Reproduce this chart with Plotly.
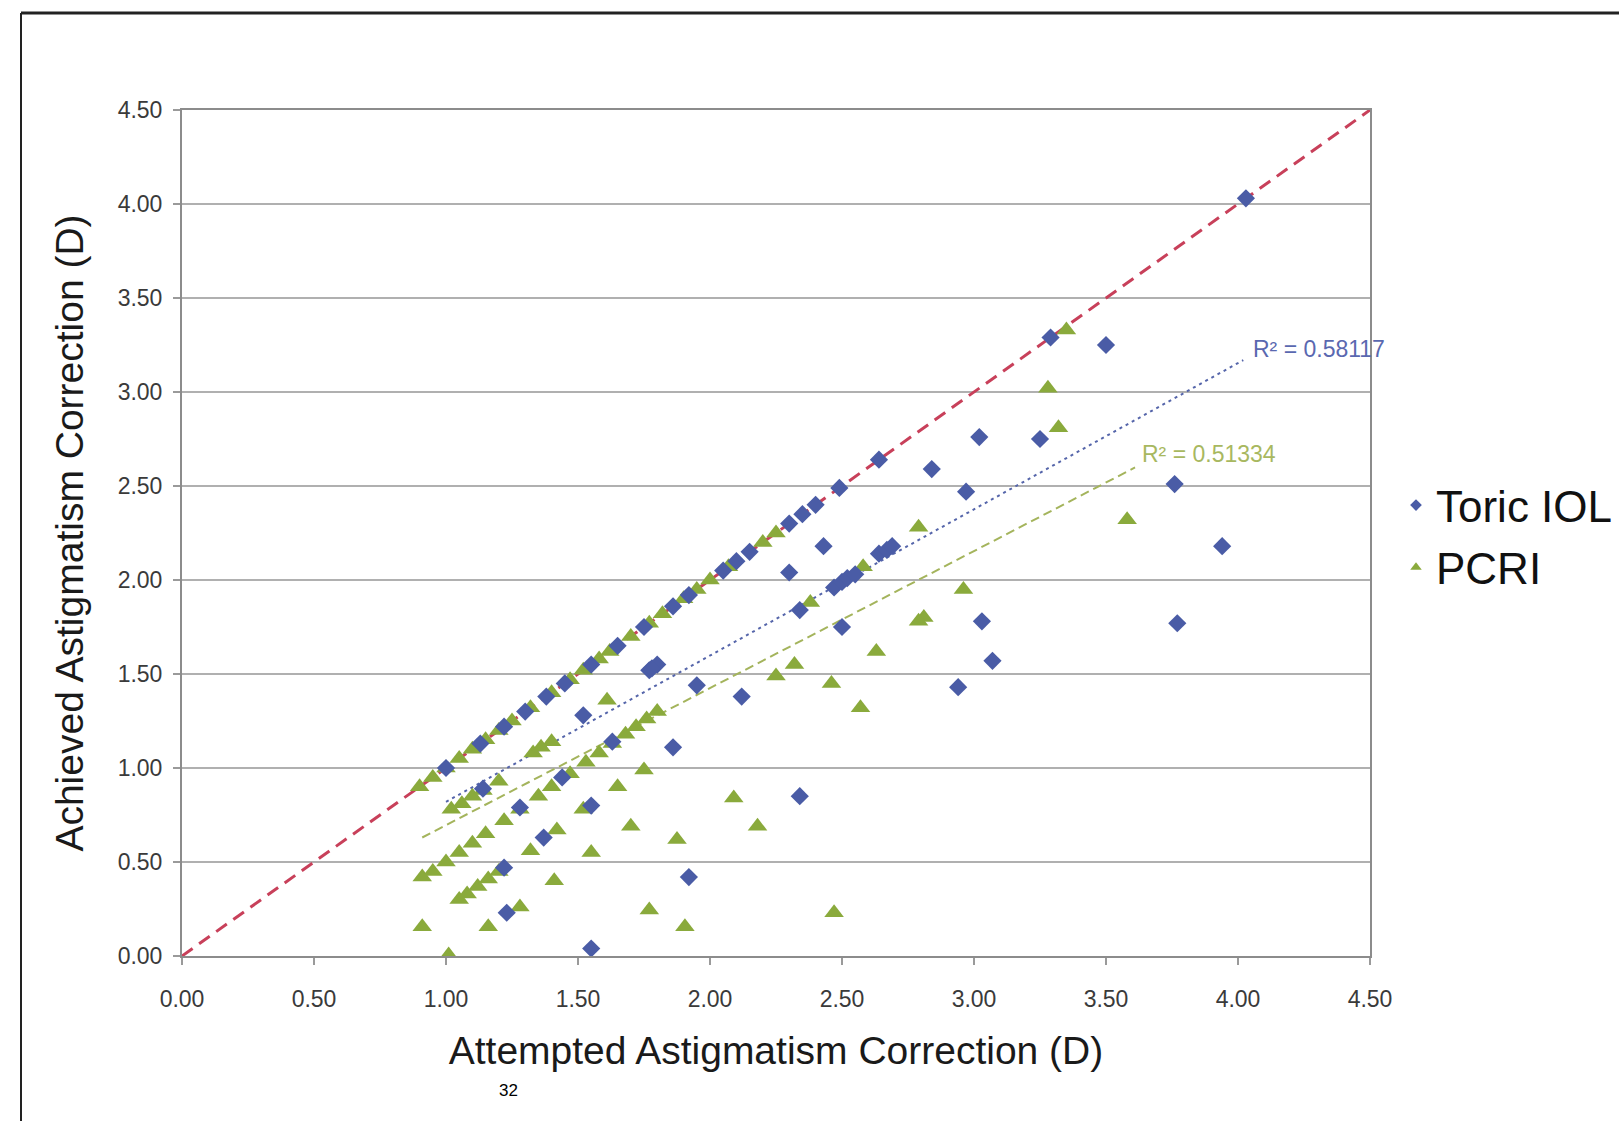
import numpy as np
import plotly.graph_objects as go

# ---------------- data ----------------
toric_x = [1.00, 1.13, 1.22, 1.30, 1.38, 1.45, 1.55, 1.65, 1.75, 1.86, 1.92, 2.05, 2.10, 2.15,
           2.30, 2.35, 2.40, 2.49, 2.64, 3.29, 4.03,
           1.14, 1.28, 1.44, 1.52, 1.63, 1.55, 1.37, 1.22, 1.23, 1.55, 1.86, 1.92, 1.95, 1.77,
           1.80, 1.78, 2.12, 2.34, 2.30, 2.43, 2.47, 2.50, 2.52, 2.55, 2.64, 2.67, 2.69, 2.34,
           2.50, 2.84, 2.97, 3.02, 3.25, 3.50, 3.76, 3.94, 3.77, 3.03, 3.07, 2.94]
toric_y = [1.00, 1.13, 1.22, 1.30, 1.38, 1.45, 1.55, 1.65, 1.75, 1.86, 1.92, 2.05, 2.10, 2.15,
           2.30, 2.35, 2.40, 2.49, 2.64, 3.29, 4.03,
           0.89, 0.79, 0.95, 1.28, 1.14, 0.80, 0.63, 0.47, 0.23, 0.04, 1.11, 0.42, 1.44, 1.52,
           1.55, 1.53, 1.38, 0.85, 2.04, 2.18, 1.96, 1.99, 2.01, 2.03, 2.14, 2.16, 2.18, 1.84,
           1.75, 2.59, 2.47, 2.76, 2.75, 3.25, 2.51, 2.18, 1.77, 1.78, 1.57, 1.43]

pcri_x = [0.90, 0.95, 1.00, 1.05, 1.10, 1.15, 1.20, 1.25, 1.32, 1.40, 1.47, 1.52, 1.58, 1.62,
          1.70, 1.77, 1.82, 1.90, 1.95, 2.00, 2.07, 2.20, 2.25, 3.35,
          1.02, 1.06, 1.10, 1.14, 1.20, 1.33, 1.36, 1.40, 1.61,
          0.91, 0.95, 1.00, 1.05, 1.10, 1.15, 1.22, 1.28, 1.35, 1.40, 1.47, 1.53, 1.58, 1.63,
          1.68, 1.72, 1.76, 1.80,
          1.05, 1.08, 1.12, 1.16, 1.20, 1.32, 1.42, 1.52,
          0.91, 1.01, 1.16, 1.28, 1.41, 1.55, 1.65, 1.70, 1.75, 1.875, 1.77, 1.905, 2.09, 2.18,
          2.47, 2.25, 2.32, 2.46, 2.57, 2.63, 2.38, 2.58, 2.79, 2.81, 2.79, 2.96, 3.28, 3.32, 3.58]
pcri_y = [0.90, 0.95, 1.00, 1.05, 1.10, 1.15, 1.20, 1.25, 1.32, 1.40, 1.47, 1.52, 1.58, 1.62,
          1.70, 1.77, 1.82, 1.90, 1.95, 2.00, 2.07, 2.20, 2.25, 3.33,
          0.78, 0.81, 0.85, 0.88, 0.93, 1.08, 1.11, 1.14, 1.36,
          0.42, 0.45, 0.50, 0.55, 0.60, 0.65, 0.72, 0.78, 0.85, 0.90, 0.97, 1.03, 1.08, 1.13,
          1.18, 1.22, 1.26, 1.30,
          0.30, 0.33, 0.37, 0.41, 0.45, 0.56, 0.67, 0.78,
          0.155, 0.005, 0.155, 0.26, 0.40, 0.55, 0.90, 0.69, 0.99, 0.62, 0.245, 0.155, 0.84, 0.69,
          0.23, 1.49, 1.55, 1.45, 1.32, 1.62, 1.88, 2.07, 2.28, 1.80, 1.78, 1.95, 3.02, 2.81, 2.32]

# linear trend lines (coefficients)
toric_fit_slope, toric_fit_intercept = 0.778, 0.042
toric_fit_range = [1.00, 4.02]
toric_r2_text = "R² = 0.58117"
pcri_fit_slope, pcri_fit_intercept = 0.729, -0.033
pcri_fit_range = [0.91, 3.61]
pcri_r2_text = "R² = 0.51334"

identity_range = [0.0, 4.5]

tick_vals = [0.0, 0.5, 1.0, 1.5, 2.0, 2.5, 3.0, 3.5, 4.0, 4.5]
tick_text = ["0.00", "0.50", "1.00", "1.50", "2.00", "2.50", "3.00", "3.50", "4.00", "4.50"]

series_names = ["Toric IOL", "PCRI"]
x_title = "Attempted Astigmatism Correction (D)"
y_title = "Achieved Astigmatism Correction (D)"
page_number = "32"

# ---------------- figure ----------------
FONT = "Liberation Sans, Arial, sans-serif"
BLUE = "#4a5ca6"
GREEN = "#8aaa3c"

W, H = 1619, 1121
L, R, T, B = 182, 249, 110, 165
PW, PH = W - L - R, H - T - B


def px_x(p):
    return (p - L) / PW


def px_y(p):
    return (H - B - p) / PH


fig = go.Figure()

# identity line
fig.add_trace(go.Scatter(x=identity_range, y=identity_range, mode="lines",
                         line=dict(color="#c8405a", width=3, dash="13px,8px"),
                         showlegend=False, hoverinfo="skip"))

# trend lines
tx = np.array(toric_fit_range)
fig.add_trace(go.Scatter(x=tx, y=toric_fit_slope * tx + toric_fit_intercept, mode="lines",
                         line=dict(color="#5565aa", width=2, dash="3px,4px"),
                         showlegend=False, hoverinfo="skip"))
gx = np.array(pcri_fit_range)
fig.add_trace(go.Scatter(x=gx, y=pcri_fit_slope * gx + pcri_fit_intercept, mode="lines",
                         line=dict(color="#a4b45c", width=2, dash="9px,5px"),
                         showlegend=False, hoverinfo="skip"))

# scatter series
fig.add_trace(go.Scatter(x=pcri_x, y=pcri_y, mode="markers", name=series_names[1],
                         marker=dict(symbol="triangle-up", size=17, color=GREEN),
                         showlegend=False))
fig.add_trace(go.Scatter(x=toric_x, y=toric_y, mode="markers", name=series_names[0],
                         marker=dict(symbol="diamond", size=14, color=BLUE),
                         showlegend=False))

# legend entries
fig.add_trace(go.Scatter(x=[None], y=[None], mode="markers", name=series_names[0],
                         legendgroup="a",
                         marker=dict(symbol="diamond", size=9, color=BLUE)))
fig.add_trace(go.Scatter(x=[None], y=[None], mode="markers", name=series_names[1],
                         legendgroup="b",
                         marker=dict(symbol="triangle-up", size=10, color=GREEN)))

axis_common = dict(range=[0, 4.5], tickvals=tick_vals, ticktext=tick_text,
                   tickfont=dict(family=FONT, size=23, color="#3a3a3a"),
                   showline=True, linecolor="#8c8c8c", linewidth=2, mirror=True,
                   ticks="outside", ticklen=7, tickcolor="#9a9a9a", tickwidth=2,
                   zeroline=False, fixedrange=True)

fig.update_xaxes(**axis_common, showgrid=False,
                 title=dict(text=x_title, font=dict(family=FONT, size=39, color="#1a1a1a"),
                            standoff=26),
                 ticklabelstandoff=14)
fig.update_yaxes(**axis_common, showgrid=True, gridcolor="#b0b0b0", gridwidth=2,
                 title=dict(text=y_title, font=dict(family=FONT, size=39, color="#1a1a1a"),
                            standoff=22),
                 ticklabelstandoff=6)

annotations = [
    dict(x=4.05, y=3.23, xref="x", yref="y", text=toric_r2_text, showarrow=False,
         xanchor="left", yanchor="middle",
         font=dict(family=FONT, size=23, color="#5a68b0")),
    dict(x=3.63, y=2.67, xref="x", yref="y", text=pcri_r2_text, showarrow=False,
         xanchor="left", yanchor="middle",
         font=dict(family=FONT, size=23, color="#a8b860")),
    dict(x=px_x(508), y=px_y(1090), xref="paper", yref="paper", text=page_number,
         showarrow=False, xanchor="center", yanchor="middle",
         font=dict(family=FONT, size=17, color="#000000")),
]

shapes = [
    # page frame: top and left rules
    dict(type="line", xref="paper", yref="paper", x0=px_x(21), x1=px_x(W), y0=px_y(13), y1=px_y(13),
         line=dict(color="#222222", width=3)),
    dict(type="line", xref="paper", yref="paper", x0=px_x(21), x1=px_x(21), y0=px_y(13), y1=px_y(H),
         line=dict(color="#222222", width=2)),
]

fig.update_layout(
    width=W, height=H,
    margin=dict(l=L, r=R, t=T, b=B, autoexpand=False),
    paper_bgcolor="white", plot_bgcolor="white",
    font=dict(family=FONT),
    showlegend=True,
    legend=dict(x=px_x(1396), y=px_y(470), xanchor="left", yanchor="top",
                font=dict(family=FONT, size=44, color="#111111"),
                bgcolor="rgba(0,0,0,0)", tracegroupgap=2, itemsizing="trace"),
    annotations=annotations,
    shapes=shapes,
)

fig.write_html("out.html")
